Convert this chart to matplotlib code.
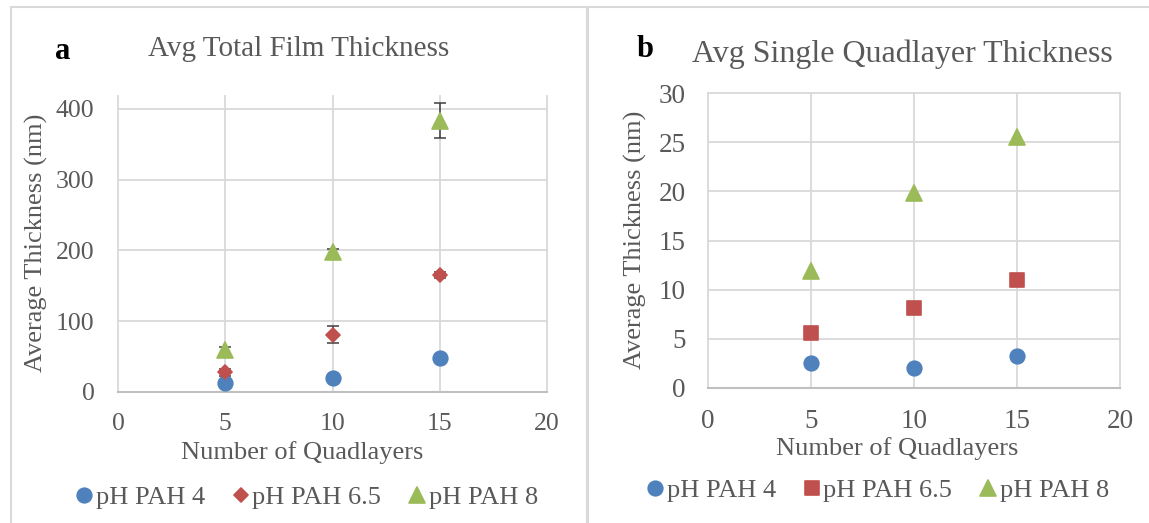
import matplotlib
matplotlib.use("Agg")
import matplotlib.pyplot as plt
from matplotlib.markers import MarkerStyle
from matplotlib.patches import Rectangle

plt.rcParams["font.family"] = ["Liberation Serif", "DejaVu Serif"]

# Film thickness data (nm) per number of quadlayers
quadlayers = [5, 10, 15]
series_names = ["pH PAH 4", "pH PAH 6.5", "pH PAH 8"]

total_ph4 = [12.5, 20, 48]
total_ph65 = [28, 81, 165]
total_ph8 = [59, 198, 383]
total_err_ph65 = [5, 12.5, 4]
total_err_ph8 = [5, 4, 25]

single_ph4 = [2.5, 2.0, 3.2]
single_ph65 = [5.6, 8.1, 11.0]
single_ph8 = [11.9, 19.8, 25.5]

BLUE = "#4f81bd"
RED = "#c0504d"
GREEN = "#9bbb59"
TEXT = "#595959"
GRID = "#d9d9d9"

W, H = 1149, 523
fig = plt.figure(figsize=(W / 100, H / 100), dpi=100)


def rect(x0, y0, x1, y1):
    # pixel box (top-left origin) -> figure fraction [l, b, w, h]
    return [x0 / W, 1 - y1 / H, (x1 - x0) / W, (y1 - y0) / H]


def style_axes(ax, ymax, yticks, tick_size, xpad, ypad):
    ax.set_xlim(0, 20)
    ax.set_ylim(0, ymax)
    ax.set_xticks([0, 5, 10, 15, 20])
    ax.set_yticks(yticks)
    ax.grid(True, color=GRID, lw=1.3)
    ax.set_axisbelow(True)
    for line in ax.get_xgridlines() + ax.get_ygridlines():
        line.set_clip_on(False)
    for side in ["top", "right", "left"]:
        ax.spines[side].set_visible(False)
    ax.spines["bottom"].set_color("#bfbfbf")
    ax.spines["bottom"].set_linewidth(1.5)
    ax.tick_params(length=0, labelsize=tick_size, colors=TEXT)
    ax.tick_params(axis="x", pad=xpad)
    ax.tick_params(axis="y", pad=ypad)


def markers(ax, y, color, marker, ms):
    (h,) = ax.plot(quadlayers, y, linestyle="none",
                   marker=MarkerStyle(marker, joinstyle="round"),
                   ms=ms, color=color, mec=color, mew=1.2, zorder=4,
                   clip_on=False)
    return h


# Panel a: total film thickness
ax_a = fig.add_axes(rect(118, 96, 547, 392))
style_axes(ax_a, 418, [0, 100, 200, 300, 400], 18.5, 15, 17)
ax_a.errorbar(quadlayers, total_ph65, yerr=total_err_ph65, fmt="none",
              ecolor="#404040", elinewidth=1.1, capsize=4.3, capthick=1.1, zorder=3)
ax_a.errorbar(quadlayers, total_ph8, yerr=total_err_ph8, fmt="none",
              ecolor="#404040", elinewidth=1.1, capsize=4.3, capthick=1.1, zorder=3)
ha = [
    markers(ax_a, total_ph4, BLUE, "o", 10.5),
    markers(ax_a, total_ph65, RED, "D", 7.5),
    markers(ax_a, total_ph8, GREEN, "^", 11),
]
ax_a.set_xlabel("Number of Quadlayers", fontsize=19, color=TEXT)
ax_a.set_ylabel("Average Thickness (nm)", fontsize=19, color=TEXT)
ax_a.xaxis.set_label_coords(0.429, -0.206)
ax_a.yaxis.set_label_coords(-0.191, 0.503)
ax_a.xaxis.label.set_va("center")
ax_a.yaxis.label.set_va("center")

# Panel b: single quadlayer thickness
ax_b = fig.add_axes(rect(708, 93.3, 1120, 387.7))
style_axes(ax_b, 30, [0, 5, 10, 15, 20, 25, 30], 19.5, 15, 16)
hb = [
    markers(ax_b, single_ph4, BLUE, "o", 10.5),
    markers(ax_b, single_ph65, RED, "s", 10),
    markers(ax_b, single_ph8, GREEN, "^", 11),
]
ax_b.set_xlabel("Number of Quadlayers", fontsize=19, color=TEXT)
ax_b.set_ylabel("Average Thickness (nm)", fontsize=19, color=TEXT)
ax_b.xaxis.set_label_coords(0.46, -0.205)
ax_b.yaxis.set_label_coords(-0.175, 0.502)
ax_b.xaxis.label.set_va("center")
ax_b.yaxis.label.set_va("center")

# Titles and panel letters
fig.text(299 / W, 1 - 56 / H, "Avg Total Film Thickness", ha="center",
         va="baseline", fontsize=21, color=TEXT)
fig.text(902 / W, 1 - 62 / H, "Avg Single Quadlayer Thickness", ha="center",
         va="baseline", fontsize=23, color=TEXT)
fig.text(63 / W, 1 - 59 / H, "a", ha="center", va="baseline", fontsize=22,
         fontweight="bold", color="black")
fig.text(645 / W, 1 - 57 / H, "b", ha="center", va="baseline", fontsize=22,
         fontweight="bold", color="black")

# Legends below each panel
for handles, cx, cy in [(ha, 307, 497), (hb, 878, 490)]:
    fig.legend(handles, series_names, loc="center",
               bbox_to_anchor=(cx / W, 1 - cy / H), ncol=3, frameon=False,
               fontsize=19, handlelength=0.6, handletextpad=0.15,
               columnspacing=1.05, labelcolor=TEXT, borderpad=0)

# Chart frames
for x0, x1 in [(11, 588), (587, 1170)]:
    fig.add_artist(Rectangle((x0 / W, -0.05), (x1 - x0) / W, 1.05 - 7 / H,
                             transform=fig.transFigure, fill=False,
                             ec=GRID, lw=1.5))

fig.savefig("out.png", dpi=100)
